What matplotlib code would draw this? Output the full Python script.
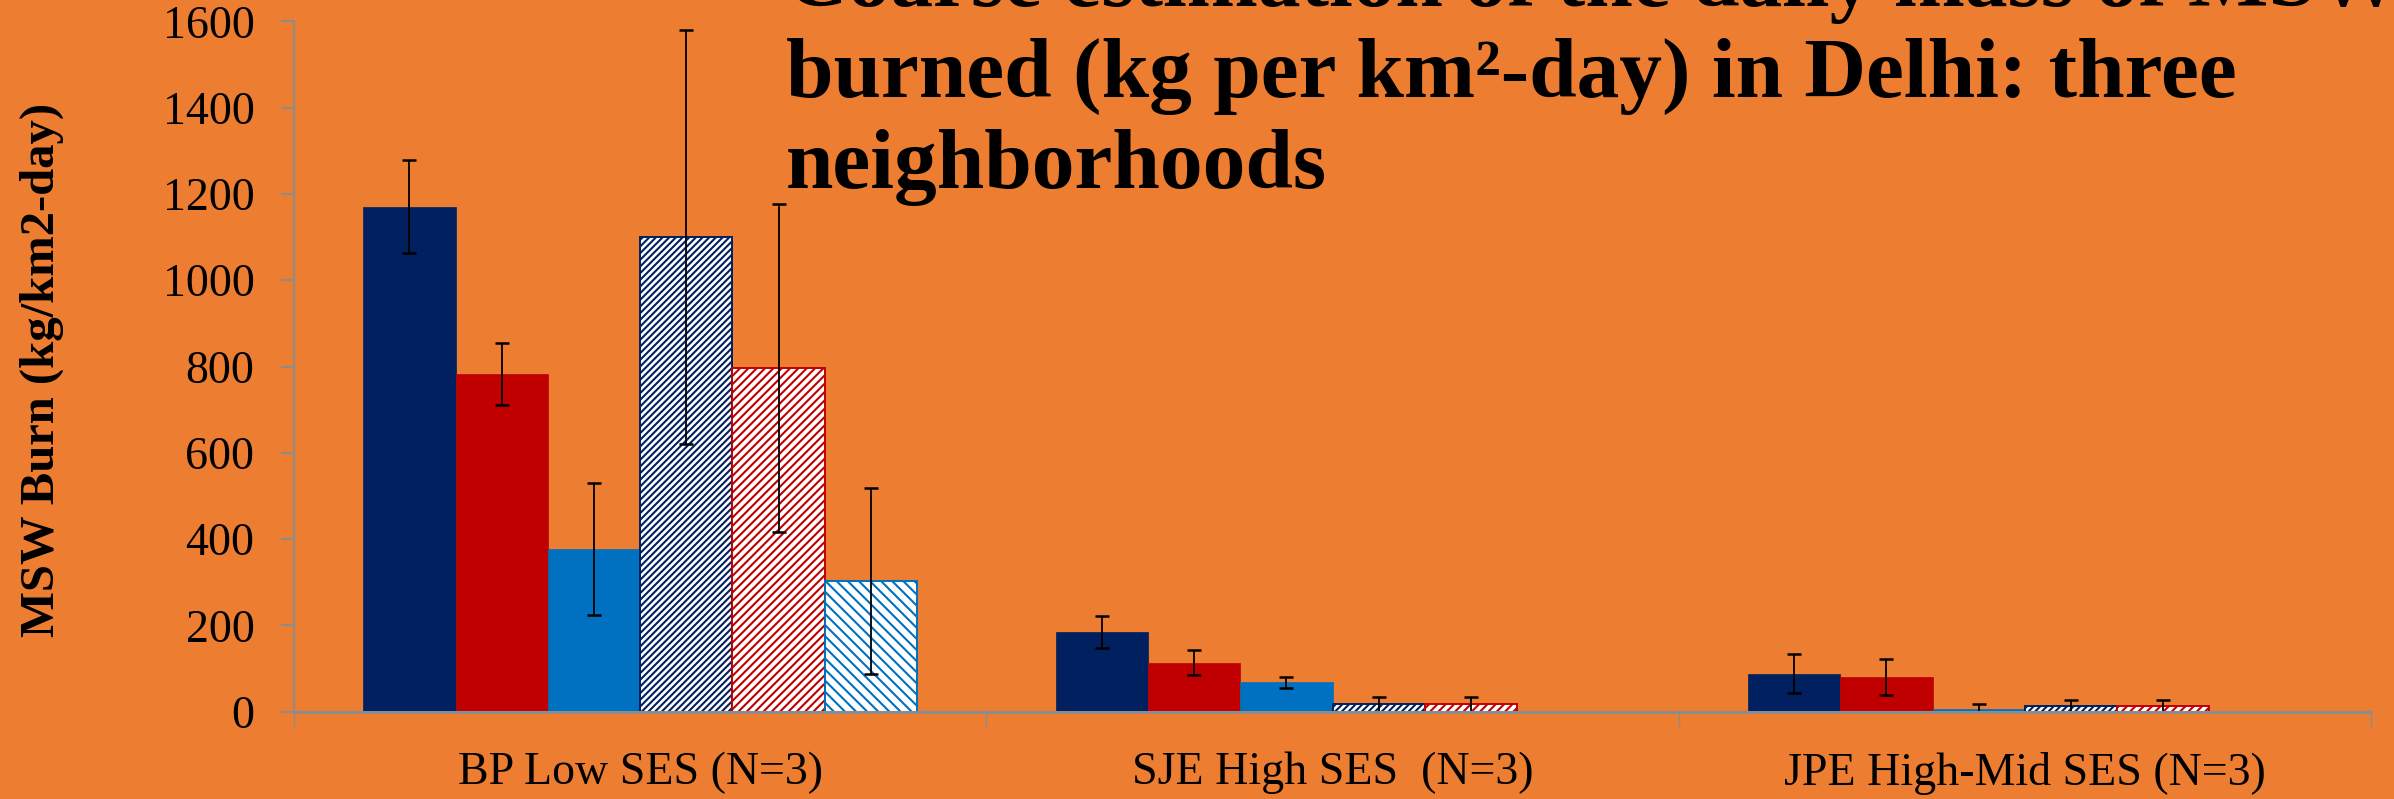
import matplotlib
matplotlib.use("Agg")
import matplotlib.pyplot as plt
from matplotlib.ticker import FixedLocator
import numpy as np

# ---------------- data ----------------
groups = ["BP Low SES (N=3)", "SJE High SES  (N=3)", "JPE High-Mid SES (N=3)"]

navy_solid = [1170, 185, 88]
red_solid = [783, 114, 80]
blue_solid = [377, 68, 6]
navy_hatch = [1100, 17, 13]
red_hatch = [797, 17, 13]
blue_hatch = [303, 0, 0]

navy_solid_err = [108, 37, 45]
red_solid_err = [72, 30, 41]
blue_solid_err = [153, 13, 13]
navy_hatch_err = [480, 18, 13]
red_hatch_err = [380, 18, 13]
blue_hatch_err = [215, 0, 0]

y_ticks = [0, 200, 400, 600, 800, 1000, 1200, 1400, 1600]
title = ("Coarse estimation of the daily mass of MSW\n"
         "burned (kg per km\u00b2-day) in Delhi: three\n"
         "neighborhoods")
y_label = "MSW Burn (kg/km2-day)"

# ---------------- style ----------------
BG = "#ED7D31"
NAVY = "#002060"
RED = "#C00000"
BLUE = "#0070C0"
AXIS_GREY = "#8C8C8C"
SERIF = ["Liberation Serif", "DejaVu Serif"]

plt.rcParams["hatch.linewidth"] = 1.5

fig = plt.figure(figsize=(23.94, 7.99), dpi=100, facecolor=BG)
ax = fig.add_axes([294 / 2394, 1 - 711.7 / 799, (2371 - 294) / 2394, (711.7 - 21.3) / 799])
ax.set_facecolor(BG)

series = [
    (navy_solid, navy_solid_err, NAVY, None),
    (red_solid, red_solid_err, RED, None),
    (blue_solid, blue_solid_err, BLUE, None),
    (navy_hatch, navy_hatch_err, NAVY, "/////"),
    (red_hatch, red_hatch_err, RED, "////"),
    (blue_hatch, blue_hatch_err, BLUE, "\\\\\\"),
]

x = np.arange(len(groups))
n = len(series)
w = 0.8 / n
for i, (vals, errs, col, hatch) in enumerate(series):
    pos = x - 0.4 + w * (i + 0.5)
    if hatch is None:
        ax.bar(pos, vals, width=w, color=col, edgecolor=col, linewidth=0.5, zorder=2)
    else:
        ax.bar(pos, vals, width=w, color="white", edgecolor=col, hatch=hatch,
               linewidth=1.4, zorder=2)
    ax.errorbar(pos, vals, yerr=errs, fmt="none", ecolor="black", elinewidth=1.3,
                capsize=4.7, capthick=1.8, zorder=3)

ax.set_xlim(-0.5, len(groups) - 0.5)
ax.set_ylim(0, 1600)
ax.set_yticks(y_ticks)
ax.set_yticklabels([str(t) for t in y_ticks], fontfamily=SERIF, fontsize=33)
ax.set_xticks(x)
ax.set_xticklabels(groups, fontfamily=SERIF, fontsize=33)
ax.xaxis.set_minor_locator(FixedLocator(np.arange(-0.5, len(groups), 1.0)))

ax.tick_params(axis="x", which="major", length=0, pad=29)
ax.tick_params(axis="x", which="minor", length=11, width=1.0, color=AXIS_GREY, direction="out")
ax.tick_params(axis="y", which="major", length=9.5, width=1.5, color=AXIS_GREY, pad=19)

for s in ["top", "right"]:
    ax.spines[s].set_visible(False)
ax.spines["left"].set_color(AXIS_GREY)
ax.spines["left"].set_linewidth(1.5)
ax.spines["bottom"].set_color(AXIS_GREY)
ax.spines["bottom"].set_linewidth(2.2)
ax.spines["bottom"].set_zorder(4)

fig.text(42 / 2394, 1 - 370 / 799, y_label, rotation=90, ha="center", va="center",
         fontfamily=SERIF, fontweight="bold", fontsize=35)

# the reference's title runs off the top edge; its last line's baseline sits at y~188 px
fig.text(786 / 2394, 1 - 188 / 799, title, ha="left", va="baseline",
         fontfamily=SERIF, fontweight="bold", fontsize=61.5, linespacing=1.24)

fig.savefig("out.png", dpi=100, facecolor=BG)
